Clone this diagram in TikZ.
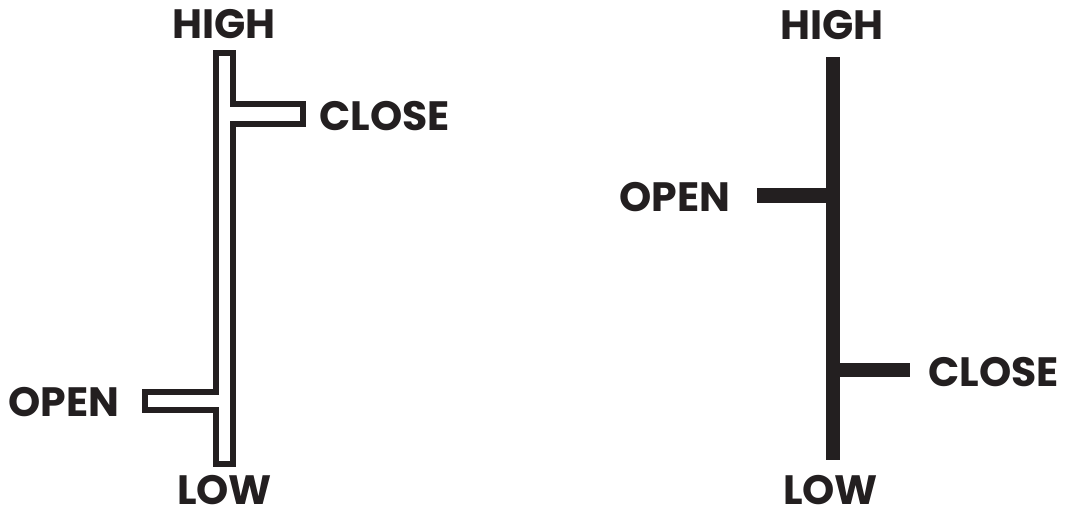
\documentclass[tikz,border=0pt]{standalone}
\usepackage{fontspec}
\setmainfont{Poppins}
\begin{document}
\begin{tikzpicture}[x=1pt,y=-1pt,
  lbl/.style={inner sep=0pt,anchor=base west,font=\fontsize{41}{41}\selectfont\bfseries,text=ink,text height=29pt,text depth=0pt},
  hollow/.style={draw=ink,line width=6pt,fill=white,line join=miter},
  solid/.style={fill=ink,draw=none}]
\definecolor{ink}{HTML}{231F20}
\useasboundingbox[fill=white] (0,0) rectangle (1070,512);
% left hollow bar
\draw[hollow] (216,53) -- (233,53) -- (233,104) -- (303,104) -- (303,124) -- (233,124)
  -- (233,464) -- (216,464) -- (216,410) -- (145,410) -- (145,392) -- (216,392) -- cycle;
\node[lbl] (h1) at (172,38) {HIGH};
\node[lbl] (c1) at (319,130) {CLOSE};
\node[lbl] (o1) at (8,416) {OPEN};
\node[lbl] (l1) at (177,504) {LOW};
% right solid bar
\fill[solid] (826,57) rectangle (840,460);
\fill[solid] (757,188) rectangle (826,203);
\fill[solid] (840,363) rectangle (910,377);
\node[lbl] (h2) at (780,39) {HIGH};
\node[lbl] (o2) at (619,211) {OPEN};
\node[lbl] (c2) at (928,386) {CLOSE};
\node[lbl] (l2) at (783,504) {LOW};
\end{tikzpicture}
\end{document}
